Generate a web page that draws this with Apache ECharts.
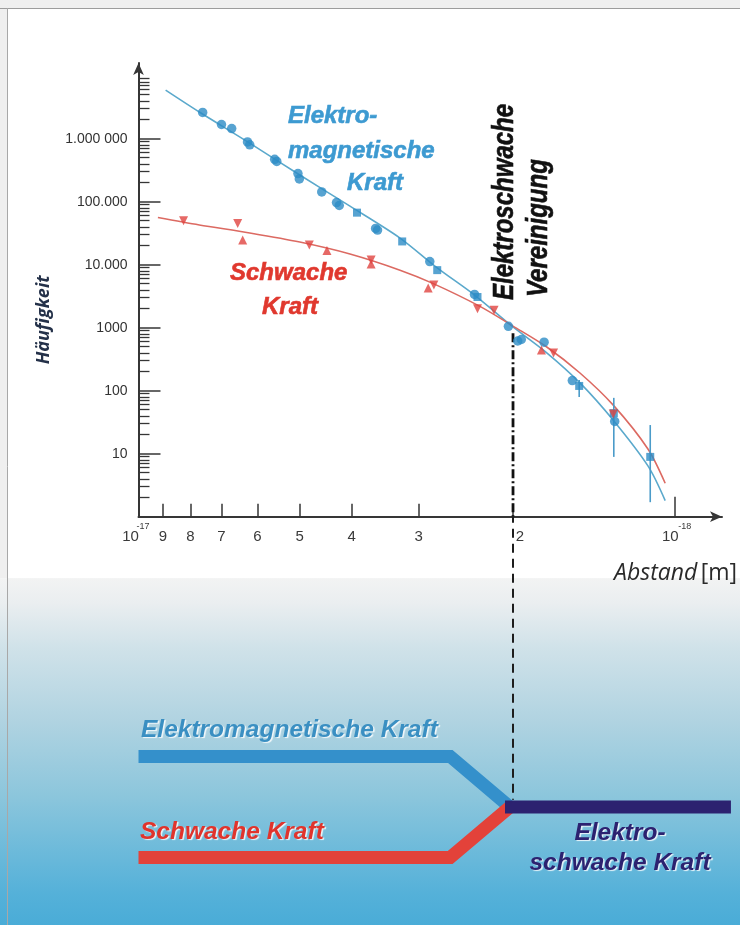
<!DOCTYPE html>
<html>
<head>
<meta charset="utf-8">
<title>Elektroschwache Vereinigung</title>
<script src="https://cdn.jsdelivr.net/npm/echarts@6/dist/echarts.min.js"></script>
<style>
html, body { margin: 0; padding: 0; background: #fff; }
#chart { width: 740px; height: 925px; }
</style>
</head>
<body>
<div id="chart"></div>
<script>
// Abstand in Einheiten von 10^-18 m, Häufigkeit als Zahl

// Messpunkte elektromagnetische Kraft ('o' Kreis, 's' Quadrat)
var emPunkteD = [7.59, 7.00, 6.70, 6.26, 6.20, 5.57, 5.52, 5.04, 5.01, 4.55, 4.27, 4.22, 3.91, 3.61, 3.58,
                 3.22, 2.86, 2.77, 2.36, 2.33, 2.04, 1.96, 1.93, 1.75, 1.55, 1.505, 1.297, 1.292, 1.109];
var emPunkteN = [2.61e6, 1.68e6, 1.45e6, 8.9e5, 8.0e5, 4.7e5, 4.35e5, 2.8e5, 2.3e5, 1.43e5, 9.7e4, 8.7e4, 6.7e4, 3.76e4, 3.55e4,
                 2.34e4, 1.12e4, 8.2e3, 3.37e3, 3.07e3, 1050, 615, 650, 590, 145, 119, 44, 32.5, 8.9];
var emForm = ['o','o','o','o','o','o','o','o','o','o','o','o','s','o','o',
              's','o','s','o','s','o','o','o','o','o','s','s','o','s'];

// Messpunkte schwache Kraft ('v' Dreieck unten, '^' Dreieck oben)
var schwachD = [8.24, 6.53, 6.39, 4.80, 4.45, 3.68, 3.68, 2.88, 2.81, 2.33, 2.17, 1.77, 1.68, 1.30];
var schwachN = [5.0e4, 4.5e4, 2.47e4, 2.05e4, 1.68e4, 1.19e4, 1.03e4, 4.27e3, 4.76e3, 2.0e3, 1.9e3, 443, 397, 42.6];
var schwachForm = ['v','v','^','v','^','v','^','^','v','v','v','^','v','v'];

// Fehlerbalken
var fehlerD = [1.505, 1.297, 1.109];
var fehlerMin = [79.5, 8.9, 1.7];
var fehlerMax = [148, 77, 28.5];

// Kurven
var emKurveD = [8.9, 7.7, 6.2, 5.0, 4.03, 3.25, 2.77, 2.36, 2.0, 1.73, 1.5, 1.3, 1.12, 1.04];
var emKurveN = [5.9e6, 2.65e6, 8.5e5, 2.65e5, 8.5e4, 2.65e4, 8.9e3, 3.3e3, 1030, 400, 133, 34, 6.4, 1.8];
var schwachKurveD = [9.2, 7.7, 6.2, 5.0, 4.03, 3.25, 2.83, 2.31, 2.0, 1.73, 1.5, 1.3, 1.12, 1.04];
var schwachKurveN = [5.6e4, 4.27e4, 3.19e4, 2.29e4, 1.48e4, 8.2e3, 5.1e3, 2.2e3, 1060, 494, 191, 59, 11.9, 3.4];

// Vereinigung bei 2 x 10^-18 m
var vereinD = [2, 2];
var vereinN = [820, 1];

// Achsen
var xTickD = [10, 9, 8, 7, 6, 5, 4, 3, 2, 1];
var xTickText = ['10', '9', '8', '7', '6', '5', '4', '3', '2', '10'];
var yTickExp = [1, 2, 3, 4, 5, 6];
var yTickText = ['10', '100', '1000', '10.000', '100.000', '1.000 000'];

// Schema unten (Niveau: 1 elektromagnetisch, -1 schwach, 0 elektroschwach)
var emBandD = [10, 2.62, 2.027];
var emBandY = [1, 1, 0];
var schwachBandD = [10, 2.62, 2.027];
var schwachBandY = [-1, -1, 0];
var ewBandD = [2.07, 0.784];
var ewBandY = [0, 0];
var strichD = [2, 2];
var strichY = [5.8, 0.14];

var chart = echarts.init(document.getElementById('chart'));

function lx(d) { return 18 - Math.log10(d); }
function ly(n) { return Math.log10(n); }
function paare(ds, ns) {
    return ds.map(function (d, i) { return [lx(d), ly(ns[i])]; });
}
function paareLin(ds, ys) {
    return ds.map(function (d, i) { return [lx(d), ys[i]]; });
}

var yMinor = [];
for (var n = 0; n < 7; n++) {
    for (var k = 2; k < 10; k++) yMinor.push(n + Math.log10(k));
}

var achse = '#363636';
var blau = '#3d9ad1';
var rot = '#e0382e';
var lila = '#2c2270';
var F = '"Liberation Sans", Arial, sans-serif';

function text(t, x, y, font, fill, align, extra) {
    var el = {
        type: 'text', x: x, y: y, z: 20,
        style: {
            text: t, font: font, fill: fill,
            textAlign: align || 'left', align: align || 'left',
            textVerticalAlign: 'middle', verticalAlign: 'middle'
        }
    };
    if (extra) {
        for (var key in extra.style || {}) el.style[key] = extra.style[key];
        for (var key2 in extra) if (key2 !== 'style') el[key2] = extra[key2];
    }
    return el;
}

function fett(farbe) {
    return { style: { stroke: farbe, lineWidth: 0.6 } };
}

var schatten = { style: {
    textShadowColor: 'rgba(255,255,255,0.85)', textShadowBlur: 1,
    textShadowOffsetX: 1.5, textShadowOffsetY: 1.5
} };

var f24 = 'italic bold 24px ' + F;
var f25 = 'italic bold 24.5px ' + F;
var fVert = 'italic bold 30px ' + F;

var option = {
    animation: false,
    backgroundColor: {
        type: 'linear', x: 0, y: 0, x2: 0, y2: 1,
        colorStops: [
            { offset: 0, color: '#ffffff' },
            { offset: 0.6245, color: '#ffffff' },
            { offset: 0.6255, color: '#f2f3f3' },
            { offset: 0.652, color: '#eaeef0' },
            { offset: 0.70, color: '#d0e2e9' },
            { offset: 0.78, color: '#b0d3e1' },
            { offset: 0.86, color: '#8cc6dc' },
            { offset: 0.965, color: '#55b1d9' },
            { offset: 1, color: '#4aacd7' }
        ]
    },
    grid: [
        { left: 138.5, top: 63, width: 583.5, height: 453.7, outerBoundsMode: 'none' },
        { left: 138.5, top: 516.7, width: 601.5, height: 391.3, outerBoundsMode: 'none' }
    ],
    xAxis: [
        {
            gridIndex: 0, type: 'value', min: 17, max: 18.089, position: 'bottom',
            axisLine: { onZero: false, symbol: ['none', 'arrow'], symbolSize: [8, 12],
                        lineStyle: { color: achse, width: 2 } },
            axisTick: { customValues: [17, 18], inside: true, length: 20,
                        lineStyle: { color: achse, width: 1.5 } },
            axisLabel: {
                customValues: xTickD.map(lx), margin: 13,
                color: '#3a3a3a', fontSize: 15, fontFamily: F,
                formatter: function (v) {
                    var k = Math.round(Math.pow(10, 18 - v));
                    var i = xTickD.indexOf(k);
                    if (k === 10) return '{a|' + xTickText[i] + '}';
                    if (k === 1) return '{c|' + xTickText[i] + '}';
                    if (k === 2) return '{b|' + xTickText[i] + '}';
                    return xTickText[i];
                },
                rich: {
                    a: { fontSize: 15, fontFamily: F, color: '#3a3a3a', padding: [0, 16, 0, 0] },
                    b: { fontSize: 15, fontFamily: F, color: '#3a3a3a', padding: [0, 0, 0, 14] },
                    c: { fontSize: 15, fontFamily: F, color: '#3a3a3a', padding: [0, 8, 0, 0] }
                }
            },
            splitLine: { show: false },
            name: '{i|Abstand} {n|[m]}', nameLocation: 'end', nameGap: 15, nameMoveOverlap: false,
            nameTextStyle: {
                align: 'right', verticalAlign: 'top', padding: [45, 0, 0, 0],
                rich: {
                    i: { fontFamily: '"Open Sans", sans-serif', fontStyle: 'italic', fontSize: 23, color: '#2a2a2a' },
                    n: { fontFamily: '"Open Sans", sans-serif', fontSize: 23, color: '#2a2a2a' }
                }
            }
        },
        {
            gridIndex: 0, type: 'value', min: 17, max: 18.089, position: 'bottom',
            axisLine: { show: false },
            axisTick: { customValues: xTickD.slice(1, 9).map(lx), inside: true, length: 13,
                        lineStyle: { color: achse, width: 1.5 } },
            axisLabel: {
                customValues: [17, 18], margin: 5, fontSize: 9, fontFamily: F, color: '#3a3a3a',
                formatter: function (v) { return v < 17.5 ? '{p|-17}' : '{q|-18}'; },
                rich: {
                    p: { fontSize: 9, fontFamily: F, color: '#3a3a3a', padding: [0, 0, 0, 9] },
                    q: { fontSize: 9, fontFamily: F, color: '#3a3a3a', padding: [0, 0, 0, 21] }
                }
            },
            splitLine: { show: false }
        },
        { gridIndex: 1, type: 'value', min: 17, max: 18.1226, show: false }
    ],
    yAxis: [
        {
            gridIndex: 0, type: 'value', min: 0, max: 7.2016, position: 'left',
            axisLine: { onZero: false, symbol: ['none', 'arrow'], symbolSize: [8, 12],
                        lineStyle: { color: achse, width: 2 } },
            axisTick: { customValues: yTickExp, inside: true, length: 22,
                        lineStyle: { color: achse, width: 1.5 } },
            axisLabel: {
                customValues: yTickExp, margin: 11, fontSize: 14, fontFamily: F, color: '#333',
                formatter: function (v) { return yTickText[Math.round(v) - 1]; }
            },
            splitLine: { show: false },
            name: 'Häufigkeit', nameLocation: 'middle', nameRotate: 90, nameGap: 86, nameMoveOverlap: false,
            nameTextStyle: {
                fontFamily: '"Open Sans", sans-serif', fontStyle: 'italic', fontWeight: 'bold',
                fontSize: 18, color: '#243149', padding: [0, 60, 0, 0]
            }
        },
        {
            gridIndex: 0, type: 'value', min: 0, max: 7.2016, position: 'left',
            axisLine: { show: false },
            axisTick: { customValues: yMinor, inside: true, length: 11,
                        lineStyle: { color: achse, width: 1.3 } },
            axisLabel: { show: false },
            splitLine: { show: false }
        },
        { gridIndex: 1, type: 'value', min: -2, max: 5.743, show: false }
    ],
    series: [
        {
            name: 'Vereinigung', type: 'line', xAxisIndex: 0, yAxisIndex: 0, z: 1,
            data: paare(vereinD, vereinN), symbol: 'none', silent: true,
            lineStyle: { color: '#111', width: 2.8, type: [9, 3, 2, 3] }
        },
        {
            name: 'Elektromagnetische Kraft', type: 'line', xAxisIndex: 0, yAxisIndex: 0, z: 2,
            data: paare(emKurveD, emKurveN), smooth: 0.3, symbol: 'none',
            lineStyle: { color: '#5ba9cc', width: 1.6 }
        },
        {
            name: 'Schwache Kraft', type: 'line', xAxisIndex: 0, yAxisIndex: 0, z: 2,
            data: paare(schwachKurveD, schwachKurveN), smooth: 0.3, symbol: 'none',
            lineStyle: { color: '#dc6a62', width: 1.6 }
        },
        {
            name: 'Fehler', type: 'custom', xAxisIndex: 0, yAxisIndex: 0, z: 3,
            data: fehlerD.map(function (d, i) { return [lx(d), ly(fehlerMin[i]), ly(fehlerMax[i])]; }),
            encode: { x: 0, y: [1, 2] },
            renderItem: function (params, api) {
                var a = api.coord([api.value(0), api.value(1)]);
                var b = api.coord([api.value(0), api.value(2)]);
                return { type: 'line', shape: { x1: a[0], y1: a[1], x2: b[0], y2: b[1] },
                         style: { stroke: '#4b9bc9', lineWidth: 1.6 } };
            }
        },
        {
            name: 'EM Punkte', type: 'scatter', xAxisIndex: 0, yAxisIndex: 0, z: 4,
            itemStyle: { color: '#2d8cc6' },
            data: paare(emPunkteD, emPunkteN).map(function (p, i) {
                var q = emForm[i] === 's';
                return { value: p, symbol: q ? 'rect' : 'circle', symbolSize: q ? 8 : 9.5 };
            })
        },
        {
            name: 'Schwach Punkte', type: 'scatter', xAxisIndex: 0, yAxisIndex: 0, z: 4,
            itemStyle: { color: '#e04440' },
            data: paare(schwachD, schwachN).map(function (p, i) {
                return { value: p, symbol: 'triangle', symbolSize: 9,
                         symbolRotate: schwachForm[i] === 'v' ? 180 : 0 };
            })
        },
        {
            name: 'Strich', type: 'line', xAxisIndex: 2, yAxisIndex: 2, z: 1,
            data: paareLin(strichD, strichY), symbol: 'none', silent: true,
            lineStyle: { color: '#1d1d1d', width: 2, type: [9, 6] }
        },
        {
            name: 'EM Band', type: 'line', xAxisIndex: 2, yAxisIndex: 2, z: 2,
            data: paareLin(emBandD, emBandY), symbol: 'none',
            lineStyle: { color: '#3490cb', width: 13, cap: 'butt', join: 'miter' }
        },
        {
            name: 'Schwach Band', type: 'line', xAxisIndex: 2, yAxisIndex: 2, z: 2,
            data: paareLin(schwachBandD, schwachBandY), symbol: 'none',
            lineStyle: { color: '#e3423a', width: 13, cap: 'butt', join: 'miter' }
        },
        {
            name: 'EW Band', type: 'line', xAxisIndex: 2, yAxisIndex: 2, z: 3,
            data: paareLin(ewBandD, ewBandY), symbol: 'none',
            lineStyle: { color: lila, width: 13, cap: 'butt', join: 'miter' }
        }
    ],
    graphic: [
        { type: 'rect', z: -5, shape: { x: 0, y: 0, width: 740, height: 8 }, style: { fill: '#efefef' } },
        { type: 'rect', z: -5, shape: { x: 0, y: 0, width: 7, height: 578 }, style: { fill: '#efefef' } },
        { type: 'line', z: -4, shape: { x1: 0, y1: 8.5, x2: 740, y2: 8.5 }, style: { stroke: '#9c9c9c', lineWidth: 1 } },
        { type: 'line', z: -4, shape: { x1: 7.5, y1: 8, x2: 7.5, y2: 925 }, style: { stroke: '#a8a8a8', lineWidth: 1 } },

        text('Elektro-', 288, 116.5, f24, blau, 'left', fett(blau)),
        text('magnetische', 288, 151, f24, blau, 'left', fett(blau)),
        text('Kraft', 347, 183.5, f24, blau, 'left', fett(blau)),
        text('Schwache', 230, 273.5, f24, rot, 'left', fett(rot)),
        text('Kraft', 262, 307.5, f24, rot, 'left', fett(rot)),
        text('Elektroschwache', 505, 300, fVert, '#111', 'left', { rotation: Math.PI / 2, scaleX: 0.8, style: { stroke: '#111', lineWidth: 0.6 } }),
        text('Vereinigung', 539, 297, fVert, '#111', 'left', { rotation: Math.PI / 2, scaleX: 0.8, style: { stroke: '#111', lineWidth: 0.6 } }),

        text('Elektromagnetische Kraft', 141, 730, f25, '#3a8fc2', 'left', schatten),
        text('Schwache Kraft', 140, 832, f25, '#e0342c', 'left', schatten),
        text('Elektro-', 620, 833, f25, lila, 'center', schatten),
        text('schwache Kraft', 620, 863, f25, lila, 'center', schatten)
    ]
};

chart.setOption(option);
</script>
</body>
</html>
